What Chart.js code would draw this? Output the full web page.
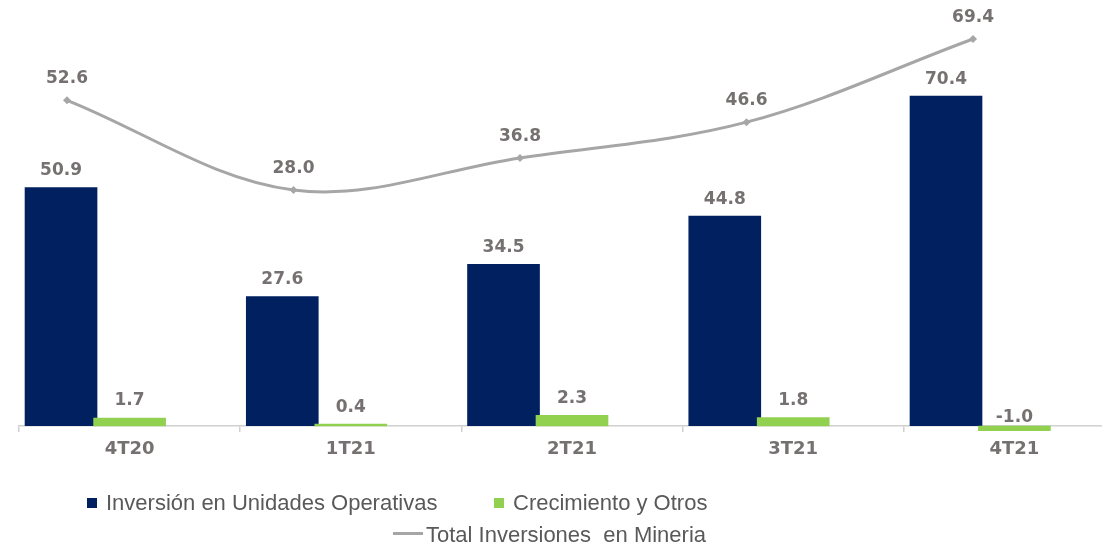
<!DOCTYPE html>
<html>
<head>
<meta charset="utf-8">
<script src="https://cdn.jsdelivr.net/npm/chart.js@4.4.1/dist/chart.umd.min.js"></script>
<style>
  html, body { margin: 0; padding: 0; background: #fff; overflow: hidden; }
  #wrap { position: relative; width: 1130px; height: 548px; }
  .legend { position: absolute; font-family: "Liberation Sans", Arial, sans-serif; font-size: 22px; line-height: 22px; color: #595959; white-space: pre; }
  .sw { position: absolute; }
</style>
</head>
<body>
<div id="wrap">
  <canvas id="inversiones"></canvas>
  <div class="sw" style="left:87px;top:498px;width:10px;height:10px;background:#002060"></div>
  <div class="legend" style="left:106px;top:492px">Inversión en Unidades Operativas</div>
  <div class="sw" style="left:494px;top:498px;width:10px;height:10px;background:#92D050"></div>
  <div class="legend" style="left:513px;top:492px">Crecimiento y Otros</div>
  <div class="sw" style="left:393px;top:532px;width:30px;height:3px;background:#A6A6A6"></div>
  <div class="legend" style="left:426px;top:524px">Total Inversiones  en Mineria</div>
</div>
<script>
const trimestres = ["4T20", "1T21", "2T21", "3T21", "4T21"];
const unidadesOperativas = [50.9, 27.6, 34.5, 44.8, 70.4];
const crecimientoOtros = [1.7, 0.4, 2.3, 1.8, -1.0];
const totalMineria = [52.6, 28.0, 36.8, 46.6, 69.4];

const NAVY = "#002060";
const GREEN = "#92D050";
const GRAY_LINE = "#A6A6A6";
const LABEL_GRAY = "#767171";

const asPoints = (arr) => arr.map((v, i) => ({ x: i, y: v }));
const valueOf = (d) => (typeof d === "object" ? d.y : d);

// value labels above bars and line points
const valueLabels = {
  id: "valueLabels",
  afterDatasetsDraw(chart) {
    const ctx = chart.ctx;
    ctx.save();
    ctx.font = "bold 17px 'DejaVu Sans', sans-serif";
    ctx.fillStyle = LABEL_GRAY;
    ctx.textAlign = "center";
    ctx.textBaseline = "middle";
    chart.data.datasets.forEach((ds, di) => {
      const meta = chart.getDatasetMeta(di);
      meta.data.forEach((el, i) => {
        const v = valueOf(ds.data[i]);
        let y;
        if (ds.type === "line") y = el.y - 21.5;
        else if (v >= 0) y = el.y - 17;
        else y = el.base - 8;
        ctx.fillText(v.toFixed(1), el.x, y);
      });
    });
    ctx.restore();
  }
};

new Chart(document.getElementById("inversiones"), {
  type: "bar",
  data: {
    labels: trimestres,
    datasets: [
      {
        label: "Total Inversiones en Mineria",
        type: "line",
        data: asPoints(totalMineria),
        xAxisID: "xLine",
        yAxisID: "yLine",
        borderColor: GRAY_LINE,
        borderWidth: 3,
        tension: 0.35,
        pointStyle: "rectRot",
        pointRadius: 4,
        pointBackgroundColor: GRAY_LINE,
        pointBorderWidth: 0,
        order: 0
      },
      {
        label: "Inversión en Unidades Operativas",
        data: asPoints(unidadesOperativas),
        xAxisID: "xOp",
        backgroundColor: NAVY,
        order: 2
      },
      {
        label: "Crecimiento y Otros",
        data: crecimientoOtros,
        xAxisID: "x",
        backgroundColor: GREEN,
        clip: false,
        order: 1
      }
    ]
  },
  options: {
    responsive: true,
    maintainAspectRatio: false,
    animation: false,
    layout: { padding: { left: 19, right: 5, top: 20, bottom: 82 } },
    datasets: {
      bar: { grouped: false, barThickness: 72 }
    },
    scales: {
      x: {
        offset: true,
        grid: { offset: true, drawOnChartArea: false, tickLength: 6, color: "#d0d0d0", lineWidth: 1.5 },
        border: { color: "#d0d0d0", width: 1.5 },
        ticks: {
          color: LABEL_GRAY,
          padding: 7,
          font: { family: "'DejaVu Sans', sans-serif", size: 18, weight: "bold" }
        },
        afterFit(scale) { scale.height = 40; }
      },
      xOp: { type: "linear", display: false, offset: false, min: -0.190, max: 4.809 },
      xLine: { type: "linear", display: false, offset: false, min: -0.212, max: 4.671 },
      y: { display: false, min: 0, max: 86.66 },
      yLine: { display: false, min: -36.71, max: 74.61 }
    },
    plugins: {
      legend: { display: false },
      tooltip: { enabled: false }
    }
  },
  plugins: [valueLabels]
});
</script>
</body>
</html>
